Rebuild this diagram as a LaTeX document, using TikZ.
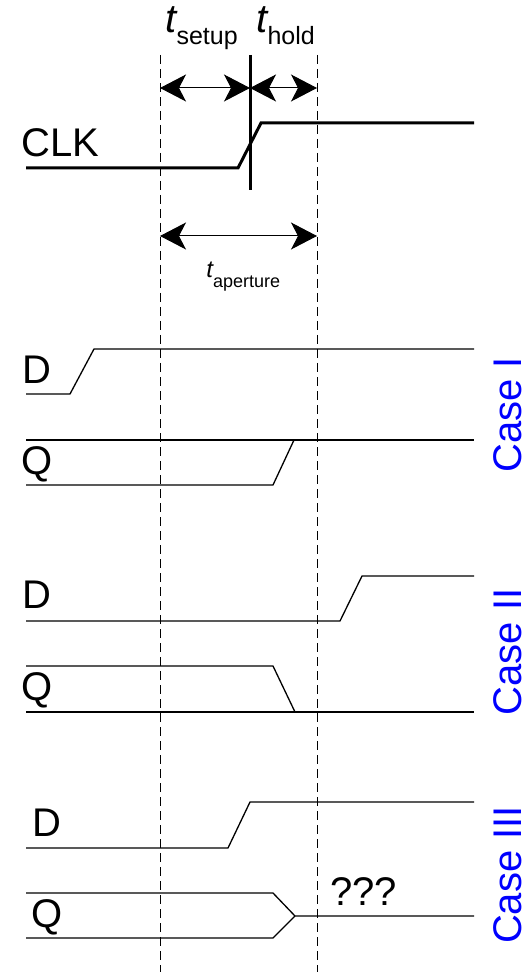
\documentclass[tikz,border=0pt]{standalone}
\usepackage{fontspec}
\setmainfont{Liberation Sans}
\usetikzlibrary{arrows.meta, positioning, calc}
\definecolor{caseBlue}{HTML}{0000FF}

\begin{document}
\begin{tikzpicture}[x=0.5pt, y=-0.5pt,
    sig/.style={line width=0.65pt},
    clk/.style={line width=1.5pt},
    guide/.style={line width=0.5pt, dash pattern=on 4.5pt off 2.5pt},
    dim/.style={line width=0.5pt,
      {Stealth[length=13pt,width=13.5pt,inset=3.5pt]}-{Stealth[length=13pt,width=13.5pt,inset=3.5pt]}},
    lbl/.style={font=\fontsize{20}{20}\selectfont, inner sep=0pt, anchor=base west},
    tbig/.style={font=\fontsize{20}{20}\selectfont, inner sep=0pt, anchor=base west},
    tsmall/.style={font=\fontsize{12}{12}\selectfont, inner sep=0pt, anchor=base west},
    caselbl/.style={font=\fontsize{20}{20}\selectfont, text=caseBlue, rotate=90,
      inner sep=0pt, anchor=base}]
  \useasboundingbox (0,0) rectangle (529,972);
  % lineas guia
  \coordinate (gLtop) at (160,55);
  \coordinate (gLbot) at (160,972);
  \coordinate (gRtop) at (317,55);
  \coordinate (gRbot) at (317,972);
  \draw[guide] (gLtop) -- (gLbot);
  \draw[guide] (gRtop) -- (gRbot);
  % flanco del reloj
  \coordinate (tickTop) at (250,55);
  \coordinate (tickBot) at (250,190);
  \draw[clk] (tickTop) -- (tickBot);
  \draw[clk] (26,168) -- (238,168) -- (261,123) -- (474,123);
  \node[lbl] (clk) at (21,157) {CLK};
  % cotas setup / hold
  \coordinate (sL) at (160,88);
  \coordinate (sM) at (250,88);
  \coordinate (sR) at (317,88);
  \draw[dim] (sL) -- (sM);
  \draw[dim] (sM) -- (sR);
  \node[tbig] (tsetup) at (165,33)
    {{\itshape t}\raisebox{-6pt}{\fontsize{12.5}{12.5}\selectfont setup}};
  \node[tbig] (thold) at (256,33)
    {{\itshape t}\raisebox{-6pt}{\fontsize{12.5}{12.5}\selectfont hold}};
  % cota apertura
  \coordinate (aL) at (160,236);
  \coordinate (aR) at (317,236);
  \draw[dim] (aL) -- (aR);
  \node[tsmall] (taper) at (206,278)
    {{\itshape t}\raisebox{-5pt}{\fontsize{9}{9}\selectfont aperture}};
  % caso I
  \draw[sig] (26,394) -- (70,394) -- (94,349) -- (474,349);
  \draw[sig] (26,440) -- (474,440);
  \draw[sig] (26,485) -- (273,485) -- (294,440);
  \node[lbl] (d1) at (22,383) {D};
  \node[lbl] (q1) at (21,474) {Q};
  \node[caselbl] (case1) at (521,415) {Case I};
  % caso II
  \draw[sig] (26,621) -- (340,621) -- (362,576) -- (474,576);
  \draw[sig] (26,666) -- (273,666) -- (295,712);
  \draw[sig] (26,712) -- (474,712);
  \node[lbl] (d2) at (22,608) {D};
  \node[lbl] (q2) at (21,700) {Q};
  \node[caselbl] (case2) at (521,652) {Case II};
  % caso III
  \draw[sig] (26,848) -- (228,848) -- (250,802) -- (474,802);
  \draw[sig] (26,893) -- (273,893) -- (295,916) -- (474,916);
  \draw[sig] (26,938) -- (273,938) -- (295,916);
  \node[lbl] (d3) at (32,836) {D};
  \node[lbl] (q3) at (31,927) {Q};
  \node[lbl] (meta) at (330,905) {???};
  \node[caselbl] (case3) at (521,875) {Case III};
\end{tikzpicture}
\end{document}
